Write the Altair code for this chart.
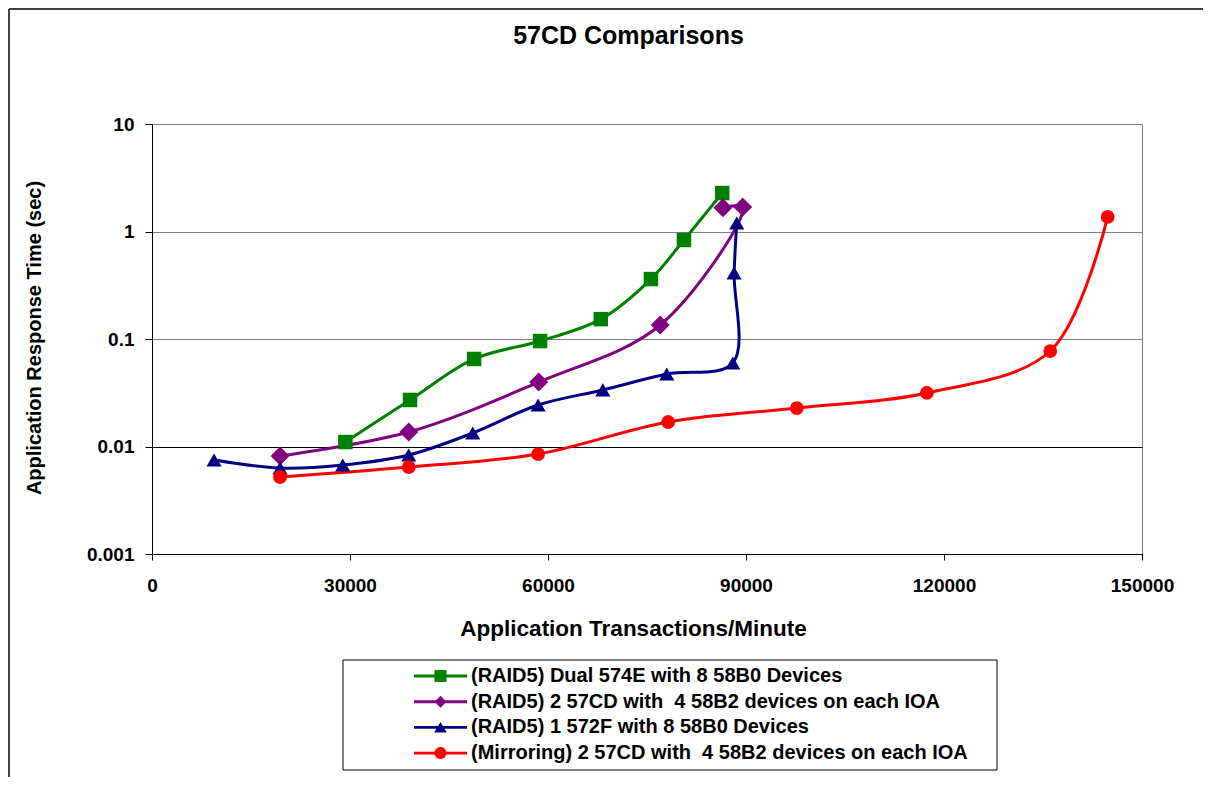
import altair as alt
import pandas as pd

# ---------------- data ----------------
series_names = [
    "(RAID5) Dual 574E with 8 58B0 Devices",
    "(RAID5) 2 57CD with\u00a0 4 58B2 devices on each IOA",
    "(RAID5) 1 572F with 8 58B0 Devices",
    "(Mirroring) 2 57CD with\u00a0 4 58B2 devices on each IOA",
]
series_colors = ["#008000", "#800080", "#000080", "#FF0000"]

green_x = [29300, 39100, 48800, 58800, 68000, 75600, 80600, 86400]
green_y = [0.0110, 0.0271, 0.0652, 0.0957, 0.153, 0.361, 0.834, 2.28]

purple_x = [19400, 38900, 58600, 77000, 89500, 86500]
purple_y = [0.00817, 0.01365, 0.0398, 0.135, 1.69, 1.66]

blue_x = [9400, 19400, 28900, 38900, 48600, 58500, 68300, 78000, 88000, 88200, 88600]
blue_y = [0.00748, 0.0063, 0.00673, 0.00834, 0.01336, 0.0243, 0.0336, 0.0472, 0.0598, 0.411, 1.20]

red_x = [19400, 38900, 58500, 78200, 97700, 117400, 136100, 144800]
red_y = [0.0052, 0.00644, 0.0085, 0.0169, 0.0228, 0.0315, 0.0773, 1.365]

x_ticks = [0, 30000, 60000, 90000, 120000, 150000]
y_ticks = [0.001, 0.01, 0.1, 1, 10]

# ---------------- table ----------------
rows = []
for name, xs, ys in zip(series_names,
                        [green_x, purple_x, blue_x, red_x],
                        [green_y, purple_y, blue_y, red_y]):
    for i, (xv, yv) in enumerate(zip(xs, ys)):
        rows.append({"x": xv, "y": yv, "series": name, "idx": i})
df = pd.DataFrame(rows)

FONT = "Liberation Sans"

color_scale = alt.Scale(domain=series_names, range=series_colors)

x_enc = alt.X(
    "x:Q",
    scale=alt.Scale(domain=[0, 150000], nice=False, zero=False),
    axis=alt.Axis(
        values=x_ticks, format="d", grid=False, tickSize=6, labelPadding=16,
        labelFlush=False, labelOverlap=False,
        title="Application Transactions/Minute", titleFontSize=22.5,
        titleX=481, titleY=81, titleBaseline="alphabetic", titleAlign="center",
        domainColor="black", tickColor="black",
    ),
)
y_enc = alt.Y(
    "y:Q",
    scale=alt.Scale(type="log", domain=[0.001, 10], nice=False),
    axis=alt.Axis(
        values=y_ticks, format="~g", tickSize=7, labelPadding=11,
        labelOverlap=False, labelBaseline="middle",
        grid=True,
        gridColor={"condition": {"test": "abs(datum.value - 0.01) < 1e-9", "value": "#000000"},
                   "value": "#808080"},
        title="Application Response Time (sec)", titleFontSize=20,
        titleAngle=-90, titleX=-112, titleY=213.5, titleBaseline="alphabetic",
        titleAlign="center",
        domainColor="black", tickColor="black",
    ),
)

base = alt.Chart(df)

# legend symbols: line segment + marker, as custom symbol paths (unit = 7px)
seg = "M-3.79,-0.21H-0.3V0.21H-3.79Z M0.3,-0.21H3.79V0.21H0.3Z "
legend_paths = [
    seg + "M-0.86,-0.86H0.86V0.86H-0.86Z",
    seg + "M-0.86,0L0,-0.86L0.86,0L0,0.86Z",
    seg + "M0,-0.78L0.9,0.72L-0.9,0.72Z",
    seg + "M-0.86,0A0.86,0.86 0 1,1 0.86,0A0.86,0.86 0 1,1 -0.86,0Z",
]

legend_props = dict(
    orient="none", legendX=262, legendY=542, title=None, padding=0,
    rowPadding=5.7, labelFont=FONT, labelFontSize=20, labelFontWeight="bold",
    labelColor="black", labelLimit=2000, symbolSize=196, symbolOffset=16.5,
    labelOffset=20.5, symbolStrokeWidth=0, symbolOpacity=1,
)

# invisible layer that only carries the legend (first, so its legend settings win)
legend_layer = base.transform_filter("false").mark_point(filled=True, opacity=1).encode(
    x=x_enc, y=y_enc,
    color=alt.Color("series:N", scale=color_scale, legend=alt.Legend(**legend_props)),
    shape=alt.Shape("series:N", scale=alt.Scale(domain=series_names, range=legend_paths),
                    legend=alt.Legend(**legend_props)),
)

lines = base.mark_line(interpolate="catmull-rom", strokeWidth=3).encode(
    x=x_enc, y=y_enc,
    color=alt.Color("series:N", scale=color_scale, legend=None),
    detail="series:N",
    order=alt.Order("idx:Q"),
)

marker_shapes = ["square", "diamond", "triangle-up", "circle"]
marker_sizes = [210, 360, 230, 190]
point_layers = []
for name, shp, sz in zip(series_names, marker_shapes, marker_sizes):
    point_layers.append(
        base.transform_filter(alt.datum.series == name)
        .mark_point(shape=shp, size=sz, filled=True, opacity=1)
        .encode(
            x=x_enc, y=y_enc,
            color=alt.Color("series:N", scale=color_scale, legend=None),
        )
    )

dummy = alt.Chart(pd.DataFrame({"a": [0]}))
legend_box = dummy.mark_rect(fillOpacity=0, stroke="#000000", strokeWidth=1).encode(
    x=alt.value(191), x2=alt.value(845), y=alt.value(536), y2=alt.value(646)
)
frame_top = dummy.mark_rule(stroke="#404040", strokeWidth=2).encode(
    x=alt.value(-143), x2=alt.value(1100), y=alt.value(-115)
)
frame_left = dummy.mark_rule(stroke="#404040", strokeWidth=2).encode(
    x=alt.value(-143), y=alt.value(-115), y2=alt.value(700)
)

chart = alt.layer(
    legend_layer, lines, *point_layers, legend_box, frame_top, frame_left
).properties(
    width=990, height=430,
    padding={"left": 144, "top": 116, "right": 61, "bottom": 223},
    autosize=alt.AutoSizeParams(type="none"),
    title=alt.TitleParams(
        "57CD Comparisons", fontSize=25, font=FONT, fontWeight="bold", color="black",
        anchor="middle", dx=-18.5, offset=-61, baseline="alphabetic", frame="group",
    ),
).configure(
    background="white",
).configure_view(
    stroke="#808080", strokeWidth=1,
).configure_axis(
    labelFont=FONT, labelFontSize=19, labelFontWeight="bold", labelColor="black",
    titleFont=FONT, titleFontWeight="bold", titleColor="black",
    gridWidth=1, domainWidth=1, tickWidth=1,
)

chart.save("out.html", embed_options={"renderer": "svg", "actions": False})
